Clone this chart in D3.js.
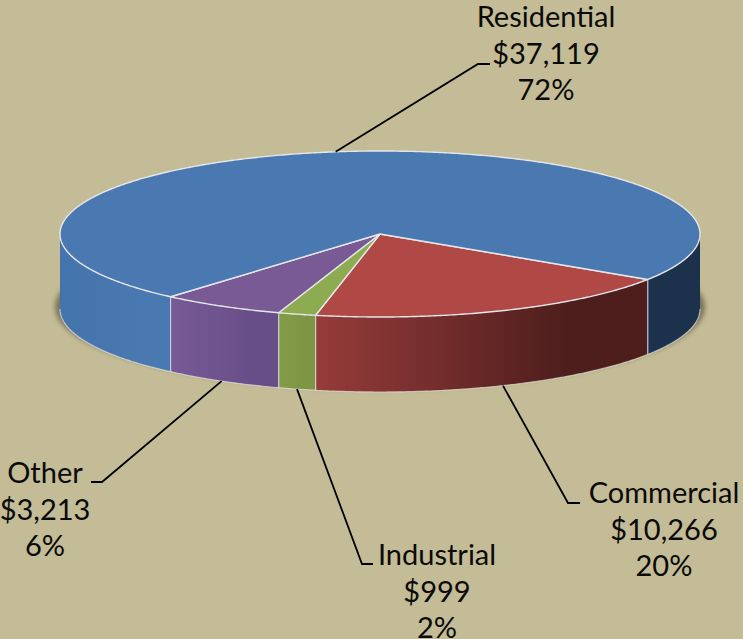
<!DOCTYPE html>
<html>
<head>
<meta charset="utf-8">
<script src="https://cdn.jsdelivr.net/npm/d3@7"></script>
<style>
  html, body { margin: 0; padding: 0; background: #c4bc96; }
  svg { display: block; }
  text { font-family: Lato, "Open Sans", sans-serif; font-size: 29px; fill: #0a0a08; }
</style>
</head>
<body>
<div id="chart"></div>
<script>
// Data, in the order the slices run clockwise from the front right
const categories = ["Commercial", "Industrial", "Other", "Residential"];
const amounts = [10266, 999, 3213, 37119];
const amountLabels = ["$10,266", "$999", "$3,213", "$37,119"];
const percentLabels = ["20%", "2%", "6%", "72%"];

const topColors = ["#b04845", "#8dab50", "#795a94", "#4a78b0"];
const sideFrom = ["#963c3a", "#839c48", "#775a96", "#4474ac"];
const sideTo = ["#4e1e1d", "#7e9644", "#684e88", "#4a78b0"];
const backSide = "#1c314b"; // part of the blue slice right of the red one

const width = 743;
const height = 639;
const cx = 380, cy = 234, rx = 320, ry = 83, depth = 75;
const rad = Math.PI / 180;
const startDeg = 33.2; // screen angle of the first slice edge, clockwise from east
const warp = 3.4 * rad; // the 3d tilt squeezes front slices a bit

// label block: centre x, first baseline, then elbow of the leader line
const labelX = [664, 437, 45, 546];
const labelY = [503, 565, 483, 27];
const elbows = [
  [[568, 503], [580, 503]],
  [[362, 564], [373, 564]],
  [[102, 482], [91, 482]],
  [[478, 64], [490, 64]]
];

const svg = d3.select("#chart").append("svg")
  .attr("width", width)
  .attr("height", height);

const defs = svg.append("defs");
defs.append("filter").attr("id", "soft")
  .attr("x", "-10%").attr("y", "-20%").attr("width", "120%").attr("height", "140%")
  .append("feGaussianBlur").attr("stdDeviation", 2.5);

const pie = d3.pie().sort(null)
  .startAngle((startDeg + 90) * rad)
  .endAngle((startDeg + 90) * rad + 2 * Math.PI);

// d3 angle (0 = north) to angle on the ellipse (0 = east, clockwise)
function screenAngle(a) {
  const t = a - Math.PI / 2;
  return t - warp * Math.sin(t - startDeg * rad);
}
const rimX = t => cx + rx * Math.cos(t);
const rimY = t => cy + ry * Math.sin(t);

function arcPoints(t0, t1, dy) {
  const n = Math.max(2, Math.ceil(Math.abs(t1 - t0) / (rad / 2)));
  return d3.range(n + 1).map(i => {
    const t = t0 + (t1 - t0) * i / n;
    return [rimX(t), rimY(t) + dy];
  });
}

const line = d3.line();

const slices = pie(amounts).map((d, i) => ({
  i,
  t0: screenAngle(d.startAngle),
  t1: screenAngle(d.endAngle)
}));

// Shadow under the disc, only really shows at both ends
svg.append("ellipse")
  .attr("cx", cx).attr("cy", cy + depth - 2)
  .attr("rx", rx + 5).attr("ry", ry - 1)
  .attr("fill", "#5e5a45")
  .attr("opacity", 0.75)
  .attr("filter", "url(#soft)");

// Side walls, front half of the ellipse only
const walls = [];
slices.forEach(s => {
  [[0, Math.PI], [2 * Math.PI, 3 * Math.PI]].forEach(([lo, hi]) => {
    const a = Math.max(s.t0, lo), b = Math.min(s.t1, hi);
    if (b > a) walls.push({ i: s.i, a, b, back: lo > 0 });
  });
});

walls.forEach((w, k) => {
  const id = "wall" + k;
  const g = defs.append("linearGradient").attr("id", id)
    .attr("gradientUnits", "userSpaceOnUse")
    .attr("x1", rimX(w.b)).attr("x2", rimX(w.a))
    .attr("y1", 0).attr("y2", 0);
  g.append("stop").attr("offset", 0).attr("stop-color", w.back ? backSide : sideFrom[w.i]);
  g.append("stop").attr("offset", 0.75).attr("stop-color", w.back ? backSide : sideTo[w.i]);

  const pts = arcPoints(w.a, w.b, 0).concat(arcPoints(w.b, w.a, depth));
  svg.append("path")
    .attr("d", line(pts) + "Z")
    .attr("fill", `url(#${id})`);
});

// thin light edges on the walls
slices.forEach(s => {
  const t = s.t0 % (2 * Math.PI);
  if (t > 0 && t < Math.PI) {
    svg.append("line")
      .attr("x1", rimX(t)).attr("y1", rimY(t))
      .attr("x2", rimX(t)).attr("y2", rimY(t) + depth)
      .attr("stroke", "#dcdfe6").attr("stroke-opacity", 0.85).attr("stroke-width", 1.2);
  }
});
svg.append("path")
  .attr("d", line(arcPoints(0, Math.PI, depth)))
  .attr("fill", "none")
  .attr("stroke", "#e6e6e0").attr("stroke-opacity", 0.7).attr("stroke-width", 1.2);

// Top faces
slices.forEach(s => {
  const pts = [[cx, cy]].concat(arcPoints(s.t0, s.t1, 0));
  svg.append("path")
    .attr("d", line(pts) + "Z")
    .attr("fill", topColors[s.i])
    .attr("stroke", "#e4e7ea")
    .attr("stroke-width", 1.4)
    .attr("stroke-linejoin", "round");
});

// Leader lines start from the middle of each slice's rim
slices.forEach(s => {
  const mid = (s.t0 + s.t1) / 2;
  const front = Math.sin(mid) > 0;
  const start = [rimX(mid), rimY(mid) + (front ? depth : 0)];
  svg.append("path")
    .attr("d", line([start].concat(elbows[s.i])))
    .attr("fill", "none")
    .attr("stroke", "#000")
    .attr("stroke-width", 1.8);
});

// Labels
categories.forEach((c, i) => {
  const t = svg.append("text")
    .attr("text-anchor", "middle");
  [c, amountLabels[i], percentLabels[i]].forEach((str, j) => {
    t.append("tspan")
      .attr("x", labelX[i])
      .attr("y", labelY[i] + j * 36.7)
      .text(str);
  });
});
</script>
</body>
</html>
